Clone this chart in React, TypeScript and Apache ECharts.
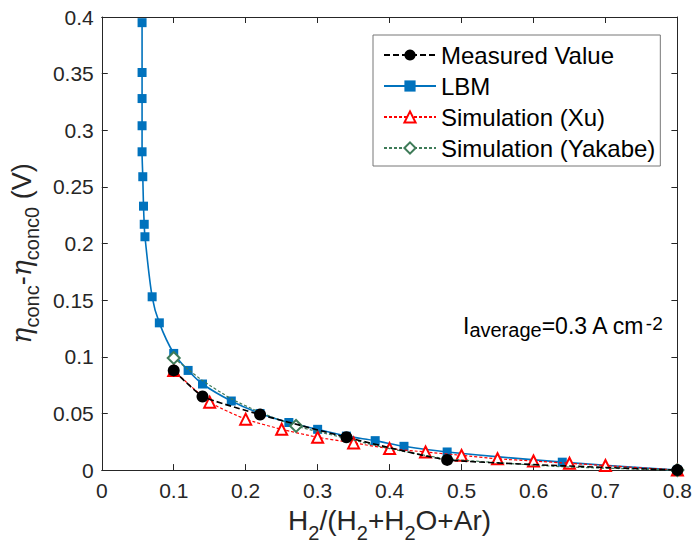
import React, { useEffect, useRef } from 'react';
import * as echarts from 'echarts';

const FONT = '"Liberation Sans", Arial, Helvetica, sans-serif';
const AX = '#262626';

// LBM
const LBM_X = [0.056, 0.056, 0.056, 0.056, 0.056, 0.057, 0.058, 0.059, 0.060, 0.070, 0.080, 0.100, 0.120, 0.140, 0.180, 0.220, 0.260, 0.300, 0.340, 0.380, 0.420, 0.480, 0.640, 0.800];
const LBM_Y = [0.395, 0.351, 0.328, 0.304, 0.281, 0.259, 0.233, 0.217, 0.206, 0.153, 0.130, 0.103, 0.088, 0.076, 0.061, 0.050, 0.042, 0.036, 0.030, 0.026, 0.021, 0.016, 0.007, 0.000];

// Measured
const MEAS_X = [0.10, 0.14, 0.22, 0.34, 0.48, 0.80];
const MEAS_Y = [0.088, 0.065, 0.049, 0.029, 0.009, 0.000];

// Simulation (Xu)
const XU_X = [0.10, 0.15, 0.20, 0.25, 0.30, 0.35, 0.40, 0.45, 0.50, 0.55, 0.60, 0.65, 0.70, 0.80];
const XU_Y = [0.088, 0.060, 0.045, 0.036, 0.029, 0.024, 0.019, 0.016, 0.013, 0.010, 0.008, 0.006, 0.004, 0.000];

// Simulation (Yakabe)
const YAK_X = [0.10, 0.12, 0.14, 0.18, 0.22, 0.27, 0.30, 0.34, 0.40, 0.48, 0.64, 0.80];
const YAK_Y = [0.099, 0.089, 0.079, 0.063, 0.051, 0.039, 0.034, 0.028, 0.019, 0.010, 0.003, 0.000];
const YAK_MARKERS = [0, 5, 11];

const X_TICKS = { min: 0, max: 0.8, interval: 0.1 };
const Y_TICKS = { min: 0, max: 0.4, interval: 0.05 };

const zip = (xs: number[], ys: number[]) => xs.map((x, i) => [x, ys[i]]);

function buildOption(): any {
  const axisCommon = {
    axisLine: { show: true, onZero: false, lineStyle: { color: AX, width: 1 } },
    axisTick: { show: true, inside: true, length: 6, lineStyle: { color: AX, width: 1 } },
    splitLine: { show: false },
  };
  const xRich = {
    a: { fontSize: 28, fontFamily: FONT, color: AX, lineHeight: 30, padding: [0, 0, 9, 0], verticalAlign: 'bottom' },
    s: { fontSize: 20, fontFamily: FONT, color: AX, lineHeight: 22, verticalAlign: 'bottom' },
  };
  const yRich = {
    a: { fontSize: 27, fontFamily: FONT, color: AX, lineHeight: 28, padding: [0, 0, 7, 0], verticalAlign: 'bottom' },
    e: { fontSize: 27, fontFamily: '"DejaVu Serif", serif', fontStyle: 'italic', color: AX, lineHeight: 28, padding: [0, 0, 7, 0], verticalAlign: 'bottom' },
    s: { fontSize: 20, fontFamily: FONT, color: AX, lineHeight: 22, verticalAlign: 'bottom' },
  };
  return {
    animation: false,
    backgroundColor: '#fff',
    grid: { left: 100, right: 15, top: 17, bottom: 72, containLabel: false },
    xAxis: [
      {
        type: 'value', position: 'bottom', ...X_TICKS, ...axisCommon,
        axisLabel: { fontSize: 21, fontFamily: FONT, color: AX, margin: 10 },
        name: '{a|H}{s|2}{a|/(H}{s|2}{a|+H}{s|2}{a|O+Ar)}',
        nameLocation: 'middle', nameGap: 38,
        nameTextStyle: { rich: xRich },
      },
      {
        type: 'value', position: 'top', ...X_TICKS, ...axisCommon,
        axisLabel: { show: false },
      },
    ],
    yAxis: [
      {
        type: 'value', position: 'left', ...Y_TICKS, ...axisCommon,
        axisLabel: { fontSize: 21, fontFamily: FONT, color: AX, margin: 8 },
        name: '{e|η}{s|conc}{a|-}{e|η}{s|conc0}{a| (V)}',
        nameLocation: 'middle', nameRotate: 90, nameGap: 54,
        nameTextStyle: { rich: yRich, padding: [0, 20, 0, 0] },
      },
      {
        type: 'value', position: 'right', ...Y_TICKS, ...axisCommon,
        axisLabel: { show: false },
      },
    ],
    legend: {
      orient: 'vertical', left: 373, top: 35,
      padding: [7, 5, 5, 10], itemGap: 5, itemWidth: 52, itemHeight: 14,
      backgroundColor: '#fff', borderColor: '#777', borderWidth: 1, borderRadius: 0,
      textStyle: { fontSize: 24, fontFamily: FONT, color: '#000', lineHeight: 26 },
      data: ['Measured Value', 'LBM', 'Simulation (Xu)', 'Simulation (Yakabe)'],
    },
    graphic: [
      {
        type: 'text', x: 463, y: 314, z: 100,
        style: {
          text: '{m|I}{b|average}{m|=0.3 A cm}{p|-2}',
          verticalAlign: 'top',
          rich: {
            m: { fontSize: 23, fontFamily: FONT, fill: '#000', color: '#000', lineHeight: 26, padding: [6, 0, 8, 0], verticalAlign: 'middle' },
            b: { fontSize: 20, fontFamily: FONT, fill: '#000', color: '#000', lineHeight: 22, verticalAlign: 'bottom' },
            p: { fontSize: 19, fontFamily: FONT, fill: '#000', color: '#000', lineHeight: 20, verticalAlign: 'top' },
          },
        },
      },
    ],
    series: [
      {
        name: 'LBM', type: 'line', data: zip(LBM_X, LBM_Y), z: 2,
        smooth: 0.3, clip: false,
        symbol: 'rect', symbolSize: 9,
        lineStyle: { color: '#0072BD', width: 1.6 },
        itemStyle: { color: '#0072BD' },
      },
      {
        name: 'Simulation (Xu)', type: 'line', data: zip(XU_X, XU_Y), z: 3,
        smooth: 0.2, clip: false,
        symbol: 'emptyTriangle', symbolSize: 11,
        lineStyle: { color: '#FF0000', width: 1.2, type: [3, 2] },
        itemStyle: { color: '#FF0000', borderWidth: 1.3 },
      },
      {
        name: 'Simulation (Yakabe)', type: 'line', z: 4,
        data: zip(YAK_X, YAK_Y).map((v, i) => ({ value: v, symbol: YAK_MARKERS.includes(i) ? 'emptyDiamond' : 'none' })),
        smooth: 0.2, clip: false,
        symbol: 'emptyDiamond', symbolSize: 12,
        lineStyle: { color: '#3E7B58', width: 1.2, type: [3, 2] },
        itemStyle: { color: '#3E7B58', borderWidth: 1.2 },
      },
      {
        name: 'Measured Value', type: 'line', data: zip(MEAS_X, MEAS_Y), z: 5,
        smooth: 0.15, clip: false,
        symbol: 'circle', symbolSize: 12,
        lineStyle: { color: '#000', width: 1.6, type: [6, 3] },
        itemStyle: { color: '#000' },
      },
    ],
  };
}

export default function App() {
  const ref = useRef<HTMLDivElement>(null);
  useEffect(() => {
    document.body.style.margin = '0';
    const chart = echarts.init(ref.current!, null, { renderer: 'svg' });
    chart.setOption(buildOption());
    return () => chart.dispose();
  }, []);
  return <div ref={ref} style={{ width: 695, height: 548 }} />;
}
